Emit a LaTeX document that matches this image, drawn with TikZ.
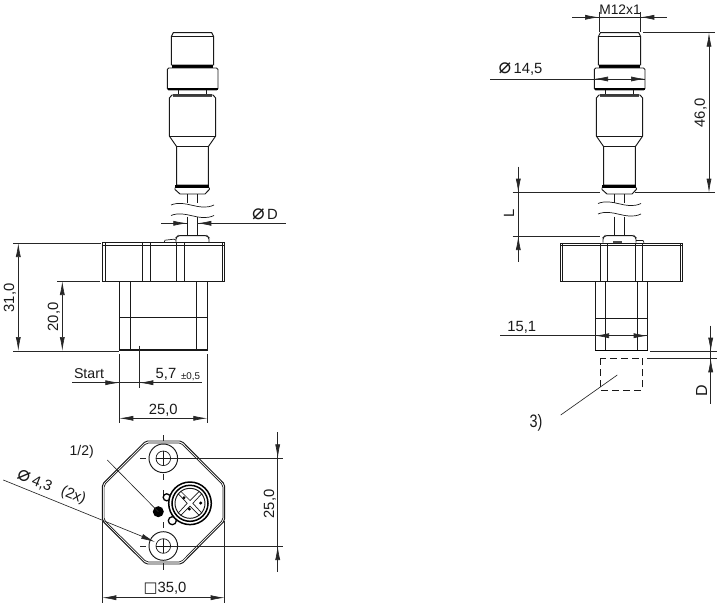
\documentclass[tikz,border=0pt]{standalone}
\usepackage{fontspec}
\setmainfont{Liberation Sans}
\newfontfamily\symfont{DejaVu Sans}
\usepackage{tikz}
\usetikzlibrary{arrows.meta}
\newcommand{\diam}{{\symfont\fontsize{21}{21}\selectfont ⌀}}
\tikzset{
	part/.style={line width=.95pt,black!90},
	thinpart/.style={line width=.7pt,black!90},
	dimline/.style={line width=.65pt,black!85},
	dimarrow/.style={dimline,-{Latex[length=14pt,width=5pt]}},
	dimboth/.style={dimline,{Latex[length=14pt,width=5pt]}-{Latex[length=14pt,width=5pt]}},
	dimtext/.style={font=\fontsize{14.8}{17}\selectfont,inner sep=0pt,black!90},
	smalltext/.style={font=\fontsize{9.8}{11}\selectfont,inner sep=0pt,black!90},
}

\begin{document}
\begin{tikzpicture}[x=1pt,y=-1pt]
	\useasboundingbox (0,0) rectangle (720,607);

	% connector, side view
	\draw[part] (173.3,32.7) -- ++(38.4,0) -- ++(2,4) -- ++(0,28.3) -- ++(-42.4,0) -- ++(0,-28.3) -- cycle;
	\draw[part] (171.3,36.7) -- ++(42.4,0);
	\fill (172,65) rectangle ++(41,3);
	\draw[part,rounded corners=1.5pt] (167.3,68) rectangle (218,90);
	\fill (168,88.5) rectangle ++(49.5,2);
	\draw[part] (178.7,90) -- ++(0,5);
	\draw[part] (206.7,90) -- ++(0,5);
	\fill[black!70] (173,94.5) rectangle ++(39,3);
	\draw[part] (172,95) -- ++(41,0) -- ++(2.7,3) -- ++(0,38) -- ++(-7.4,10.7) -- ++(0,38.3) -- ++(-31.6,0) -- ++(0,-38.3) -- ++(-7.4,-10.7) -- ++(0,-38) -- cycle;
	\draw[part] (169.3,136) -- ++(46.4,0);
	\draw[part] (176.7,146.7) -- ++(31.6,0);
	\fill (175,185) rectangle ++(34.3,2.5);
	\draw[part] (175,187.5) -- ++(0,2) -- ++(5,4.5) -- ++(25,0) -- ++(4.3,-4.5) -- ++(0,-2);
	\draw[part] (187.3,194) -- ++(0,9);
	\draw[part] (197.3,194) -- ++(0,9);
	\draw[part] (187.3,216.5) -- ++(0,19.2);
	\draw[part] (197.3,216.5) -- ++(0,19.2);
	\draw[thinpart] (171,205) .. controls (186,199) and (199,212) .. (214,205);
	\draw[thinpart] (171,215.5) .. controls (186,209.5) and (199,222.5) .. (214,215.5);
	\draw[part,rounded corners=1.5pt] (176,242.7) -- ++(0,-5) -- ++(2,-2) -- ++(29,0) -- ++(2,2) -- ++(0,5);
	\draw[thinpart] (164,242.7) -- ++(1,-2.5) -- ++(9,-1) -- ++(2,1);

	% flange and body, side view
	\draw[part] (102.7,242.7) rectangle (224.7,281);
	\draw[thinpart] (102.7,245) -- ++(122,0);
	\draw[thinpart] (105,242.7) -- ++(0,38.3);
	\draw[thinpart] (222,242.7) -- ++(0,38.3);
	\draw[part] (142.7,242.7) -- ++(0,38.3);
	\draw[thinpart] (150,242.7) -- ++(0,38.3);
	\draw[part] (176.7,242.7) -- ++(0,38.3);
	\draw[thinpart] (184.3,242.7) -- ++(0,38.3);
	\draw[part] (119.3,281) -- ++(0,69.7) -- ++(88,0) -- ++(0,-69.7);
	\draw[thinpart] (130,281) -- ++(0,69.7);
	\draw[thinpart] (196.7,281) -- ++(0,69.7);
	\draw[part] (119.3,317.7) -- ++(88,0);
	\draw[thinpart] (119.3,349) -- ++(88,0);

	% dimensions of the side view
	\draw[dimline] (13,243) -- (101,243);
	\draw[dimline] (13,351) -- (119,351);
	\draw[dimline] (57,281) -- (100,281);
	\draw[dimboth] (18.3,243) -- (18.3,351);
	\draw[dimboth] (62.3,281) -- (62.3,351);
	\node[dimtext,rotate=90] (label31) at (10,298) {31,0};
	\node[dimtext,rotate=90] (label20) at (54,317) {20,0};
	\draw[dimline] (161,223.3) -- (187.3,223.3);
	\draw[dimline] (197.3,223.3) -- (285.7,223.3);
	\draw[dimarrow] (173,223.3) -- (187.3,223.3);
	\draw[dimarrow] (211,223.3) -- (197.3,223.3);
	\node[dimtext] (labeld) at (265,214) {\diam\,D};
	\draw[dimline] (119.3,354) -- (119.3,423);
	\draw[dimline] (207.3,354) -- (207.3,423);
	\draw[dimline] (139.3,345.7) -- (139.3,388);
	\draw[dimline] (72,382.7) -- (201.7,382.7);
	\draw[dimarrow] (105,382.7) -- (119.3,382.7);
	\draw[dimarrow] (153.6,382.7) -- (139.3,382.7);
	\node[dimtext,font=\fontsize{14.2}{17}\selectfont] (labelstart) at (89,374) {Start};
	\node[dimtext] (label57) at (166,374) {5,7};
	\node[smalltext] (labeltol) at (190.5,376.5) {±0,5};
	\draw[dimboth] (119.3,418.3) -- (207.3,418.3);
	\node[dimtext] (label25) at (163.3,410) {25,0};

	% bottom view
	\draw[part,rounded corners=2pt] (145.7,441) -- (181.7,441) -- (224.7,484.3) -- (224.7,520.7) -- (181.7,564) -- (145.7,564) -- (102.3,520.7) -- (102.3,484.3) -- cycle;
	\draw[thinpart,rounded corners=2pt] (146.5,443) -- (181,443) -- (222.9,485) -- (222.9,520) -- (181,562) -- (146.5,562) -- (104.1,520) -- (104.1,485) -- cycle;
	\draw[part] (163.3,458.3) circle (14.3);
	\draw[thinpart] (163.3,458.3) circle (7.3);
	\draw[part] (163.3,546) circle (14.3);
	\draw[thinpart] (163.3,546) circle (7.3);
	\draw[dimline] (163.3,435) -- ++(0,6);
	\draw[thinpart] (163.3,451) -- ++(0,14.6);
	\draw[dimline] (163.3,474) -- ++(0,6);
	\draw[dimline] (163.3,490) -- ++(0,6);
	\draw[dimline] (163.3,522) -- ++(0,6);
	\draw[thinpart] (163.3,538.7) -- ++(0,14.6);
	\draw[dimline] (163.3,563) -- ++(0,7);
	\draw[dimline] (140,458.3) -- ++(6,0);
	\draw[thinpart] (156,458.3) -- ++(14.6,0);
	\draw[dimline] (140,546) -- ++(6,0);
	\draw[thinpart] (156,546) -- ++(14.6,0);

	% plug seen from below
	\draw[line width=1.3pt] (166.7,497.3) circle (3.5);
	\draw[line width=1.3pt] (172.3,520.7) circle (4);
	\fill[white] (190,503.3) circle (21.7);
	\draw[line width=1.5pt] (190,503.3) circle (21.3);
	\draw[line width=1.5pt] (190,503.3) circle (18);
	\draw[part] (190,503.3) circle (15);
	\draw[thinpart] (180.5,491) -- ++(9.5,9.5) -- ++(9.5,-9.5);
	\draw[thinpart] (202,493.5) -- ++(-9.2,9.8) -- ++(9.2,10);
	\draw[thinpart] (180.5,515.5) -- ++(9.5,-9.4) -- ++(9.5,9.4);
	\draw[thinpart] (178,493.5) -- ++(9.2,9.8) -- ++(-9.2,10);
	\fill (184,497.7) circle (1.7);
	\fill (200.7,503) circle (1.7);
	\fill (189.3,509) circle (1.7);
	\fill (158.3,511.7) circle (5.5);

	% dimensions of the bottom view
	\node[dimtext,font=\fontsize{14}{17}\selectfont] (label12) at (81.7,452.3) {1/2)};
	\draw[dimline] (107.3,460) -- (158.3,511.7);
	\draw[dimline] (3.3,480) -- (140,535.5);
	\draw[dimarrow] (140,535.5) -- (155,542);
	\node[dimtext,rotate=-22] (label43) at (35,481) {\diam\,4,3};
	\node[dimtext,rotate=-22] (label2x) at (73.3,495.5) {(2x)};
	\draw[dimline] (170.6,458.3) -- (283,458.3);
	\draw[dimline] (170.6,546) -- (283,546);
	\draw[dimline] (277.7,432) -- (277.7,571.7);
	\draw[dimarrow] (277.7,444.3) -- (277.7,458.3);
	\draw[dimarrow] (277.7,560) -- (277.7,546);
	\node[dimtext,rotate=90] (label25b) at (270,504) {25,0};
	\draw[dimline] (102.3,520.7) -- (102.3,603);
	\draw[dimline] (224.7,520.7) -- (224.7,603);
	\draw[dimboth] (102.3,597.7) -- (224.7,597.7);
	\node[dimtext] (label35) at (165,588) {{\symfont □}35,0};

	% connector, second side view
	\draw[part] (600.3,32.7) -- ++(38.4,0) -- ++(2,4) -- ++(0,28.3) -- ++(-42.4,0) -- ++(0,-28.3) -- cycle;
	\draw[part] (598.3,36.7) -- ++(42.4,0);
	\fill (599,65) rectangle ++(41,3);
	\draw[part,rounded corners=1.5pt] (594.3,68) rectangle (645,90);
	\fill (595,88.5) rectangle ++(49.5,2);
	\draw[part] (605.7,90) -- ++(0,5);
	\draw[part] (633.7,90) -- ++(0,5);
	\fill[black!70] (600,94.5) rectangle ++(39,3);
	\draw[part] (599,95) -- ++(41,0) -- ++(2.7,3) -- ++(0,38) -- ++(-7.4,10.7) -- ++(0,38.3) -- ++(-31.6,0) -- ++(0,-38.3) -- ++(-7.4,-10.7) -- ++(0,-38) -- cycle;
	\draw[part] (596.3,136) -- ++(46.4,0);
	\draw[part] (603.7,146.7) -- ++(31.6,0);
	\fill (602,185) rectangle ++(34.3,2.5);
	\draw[part] (602,187.5) -- ++(0,2) -- ++(5,4.5) -- ++(25,0) -- ++(4.3,-4.5) -- ++(0,-2);
	\draw[part] (614.3,194) -- ++(0,9);
	\draw[part] (624.3,194) -- ++(0,9);
	\draw[part] (614.3,216.5) -- ++(0,19.2);
	\draw[part] (624.3,216.5) -- ++(0,19.2);
	\draw[thinpart] (598,203.5) .. controls (613,197.5) and (626,210.5) .. (641,203.5);
	\draw[thinpart] (598,214) .. controls (613,208) and (626,221) .. (641,214);
	\draw[part,rounded corners=1.5pt] (603,242.7) -- ++(0,-5) -- ++(2,-2) -- ++(29,0) -- ++(2,2) -- ++(0,5);
	\draw[thinpart] (636,240.5) -- ++(7,0) -- ++(1,2.2);
	\fill[black!70] (613,240.5) rectangle ++(9,2);

	% flange and body, second side view
	\draw[part] (560,243) rectangle (682.7,281.5);
	\draw[thinpart] (560,245.3) -- ++(122.7,0);
	\draw[thinpart] (562.3,243) -- ++(0,38.5);
	\draw[thinpart] (680.4,243) -- ++(0,38.5);
	\draw[thinpart] (600,243) -- ++(0,38.5);
	\draw[thinpart] (607.3,243) -- ++(0,38.5);
	\draw[thinpart] (635,243) -- ++(0,38.5);
	\draw[thinpart] (642.7,243) -- ++(0,38.5);
	\draw[thinpart] (595,281.5) -- ++(0,69.2) -- ++(52.7,0) -- ++(0,-69.2);
	\draw[thinpart] (605,281.5) -- ++(0,69.2);
	\draw[thinpart] (637,281.5) -- ++(0,69.2);
	\draw[part] (595,318.3) -- ++(52.7,0);
	\draw[line width=1.6pt] (595,350.4) -- ++(52.7,0);
	\draw[thinpart,dash pattern=on 7pt off 4pt] (600,358.3) rectangle (642.7,390);

	% dimensions of the second side view
	\draw[dimline] (599,12) -- (599,32);
	\draw[dimline] (640.3,12) -- (640.3,32);
	\draw[dimline] (572.3,17.3) -- (666.7,17.3);
	\draw[dimarrow] (585,17.3) -- (599,17.3);
	\draw[dimarrow] (654.3,17.3) -- (640.3,17.3);
	\node[dimtext,font=\fontsize{13.8}{16}\selectfont] (labelm12) at (620,9.3) {M12x1};
	\draw[dimline] (490,79) -- (645,79);
	\draw[dimarrow] (608,79) -- (594,79);
	\draw[dimarrow] (631,79) -- (645,79);
	\node[dimtext] (label145) at (520.5,69.5) {\diam\,14,5};
	\draw[dimline] (643,32.7) -- (715,32.7);
	\draw[dimline] (635,192.7) -- (715,192.7);
	\draw[dimboth] (709,32.7) -- (709,192.7);
	\node[dimtext,rotate=90] (label46) at (700.7,113) {46,0};
	\draw[dimline] (512.7,192.7) -- (600,192.7);
	\draw[dimline] (512.7,236) -- (600,236);
	\draw[dimline] (518.3,166.7) -- (518.3,262.3);
	\draw[dimarrow] (518.3,178.7) -- (518.3,192.7);
	\draw[dimarrow] (518.3,250) -- (518.3,236);
	\node[dimtext,rotate=90] (labell) at (509,213) {L};
	\draw[dimline] (500,335.7) -- (647.7,335.7);
	\draw[dimarrow] (609,335.7) -- (595,335.7);
	\draw[dimarrow] (633.7,335.7) -- (647.7,335.7);
	\node[dimtext] (label151) at (521.7,327.3) {15,1};
	\draw[dimline] (650,351.7) -- (717,351.7);
	\draw[dimline] (647,358.3) -- (717,358.3);
	\draw[dimline] (710.7,325.7) -- (710.7,404);
	\draw[dimarrow] (710.7,337.7) -- (710.7,351.7);
	\draw[dimarrow] (710.7,372.3) -- (710.7,358.3);
	\node[dimtext,rotate=90,font=\fontsize{16}{17}\selectfont] (labelsmalld) at (701.7,390.7) {D};
	\draw[dimline] (617.3,375) -- (560.7,415);
	\node[dimtext,font=\fontsize{18}{20}\selectfont,xscale=.8] (labelthree) at (536,422.7) {3)};
\end{tikzpicture}
\end{document}
